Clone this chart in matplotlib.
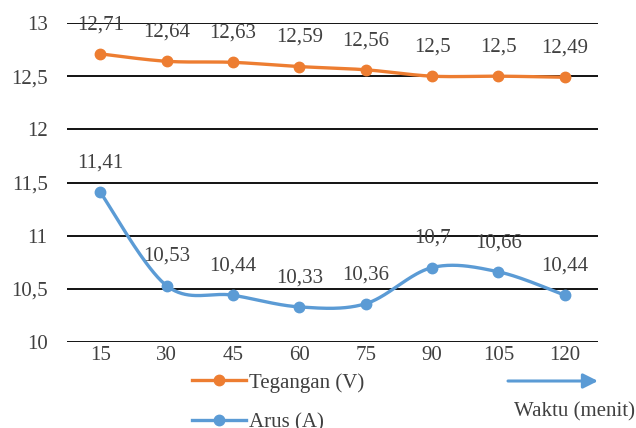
import numpy as np
import matplotlib
matplotlib.use("Agg")
import matplotlib.pyplot as plt
from matplotlib.lines import Line2D

categories = ["15", "30", "45", "60", "75", "90", "105", "120"]
tegangan = [12.71, 12.64, 12.63, 12.59, 12.56, 12.50, 12.50, 12.49]
arus = [11.41, 10.53, 10.44, 10.33, 10.36, 10.70, 10.66, 10.44]
tegangan_labels = ["12,71", "12,64", "12,63", "12,59", "12,56", "12,5", "12,5", "12,49"]
arus_labels = ["11,41", "10,53", "10,44", "10,33", "10,36", "10,7", "10,66", "10,44"]
yticks = [10, 10.5, 11, 11.5, 12, 12.5, 13]
ytick_labels = ["10", "10,5", "11", "11,5", "12", "12,5", "13"]

plt.rcParams['font.family'] = ['Liberation Serif', 'DejaVu Serif']
TXT = '#404040'
ORANGE = '#ED7D31'
BLUE = '#5B9BD5'
FS = 15


def smooth(xs, ys, n=40):
    xs = np.asarray(xs, float); ys = np.asarray(ys, float)
    px, py = [], []
    N = len(xs)
    for i in range(N - 1):
        p0 = np.array([xs[max(i - 1, 0)], ys[max(i - 1, 0)]])
        p1 = np.array([xs[i], ys[i]])
        p2 = np.array([xs[i + 1], ys[i + 1]])
        p3 = np.array([xs[min(i + 2, N - 1)], ys[min(i + 2, N - 1)]])
        c1 = p1 + (p2 - p0) / 6.0
        c2 = p2 - (p3 - p1) / 6.0
        t = np.linspace(0, 1, n)[:, None]
        b = (1 - t) ** 3 * p1 + 3 * (1 - t) ** 2 * t * c1 + 3 * (1 - t) * t ** 2 * c2 + t ** 3 * p2
        px.extend(b[:, 0]); py.extend(b[:, 1])
    return np.array(px), np.array(py)


fig = plt.figure(figsize=(6.36, 4.28), dpi=100)
ax = fig.add_axes([67 / 636, 1 - 342 / 428, (598 - 67) / 636, (342 - 23) / 428])
x = np.arange(len(categories))

for vals, labs, col in [(tegangan, tegangan_labels, ORANGE), (arus, arus_labels, BLUE)]:
    sx, sy = smooth(x, vals)
    ax.plot(sx, sy, color=col, lw=2.4, solid_capstyle='round', zorder=3, clip_on=False)
    ax.plot(x, vals, 'o', color=col, ms=7.5, zorder=4, clip_on=False)
    for xi, v, l in zip(x, vals, labs):
        ax.annotate(l, (xi, v), xytext=(0, 21), textcoords='offset points',
                    ha='center', va='center', fontsize=FS, color=TXT, zorder=5)

ax.set_xlim(-0.5, len(categories) - 0.5)
ax.set_ylim(10, 13)
ax.set_yticks(yticks)
ax.set_yticklabels(ytick_labels)
ax.set_xticks(x)
ax.set_xticklabels(categories)
ax.tick_params(axis='both', length=0, labelsize=FS, colors=TXT)
ax.tick_params(axis='y', pad=14)
ax.tick_params(axis='x', pad=3)
for s in ax.spines.values():
    s.set_visible(False)
ax.grid(axis='y', color='black', lw=1.3, zorder=1)
ax.set_axisbelow(True)

handles = [Line2D([0], [0], color=ORANGE, lw=2.4, marker='o', ms=7.5),
           Line2D([0], [0], color=BLUE, lw=2.4, marker='o', ms=7.5)]
fig.legend(handles, ['Tegangan (V)', 'Arus (A)'], loc='upper left',
           bbox_to_anchor=(192 / 636, 1 - 373 / 428), frameon=False,
           fontsize=FS, labelcolor=TXT, handlelength=2.6, handletextpad=0.15,
           labelspacing=0.95, borderpad=0, borderaxespad=0)

ax.annotate('', xy=(598, 428 - 381), xycoords='figure pixels',
            xytext=(508, 428 - 381), textcoords='figure pixels',
            arrowprops=dict(arrowstyle='-|>', color=BLUE, lw=2.2,
                            mutation_scale=22, shrinkA=0, shrinkB=0))
fig.text(574 / 636, 1 - 412 / 428, 'Waktu (menit)', ha='center', va='center',
         fontsize=FS, color=TXT)

fig.savefig('out.png', dpi=100)
